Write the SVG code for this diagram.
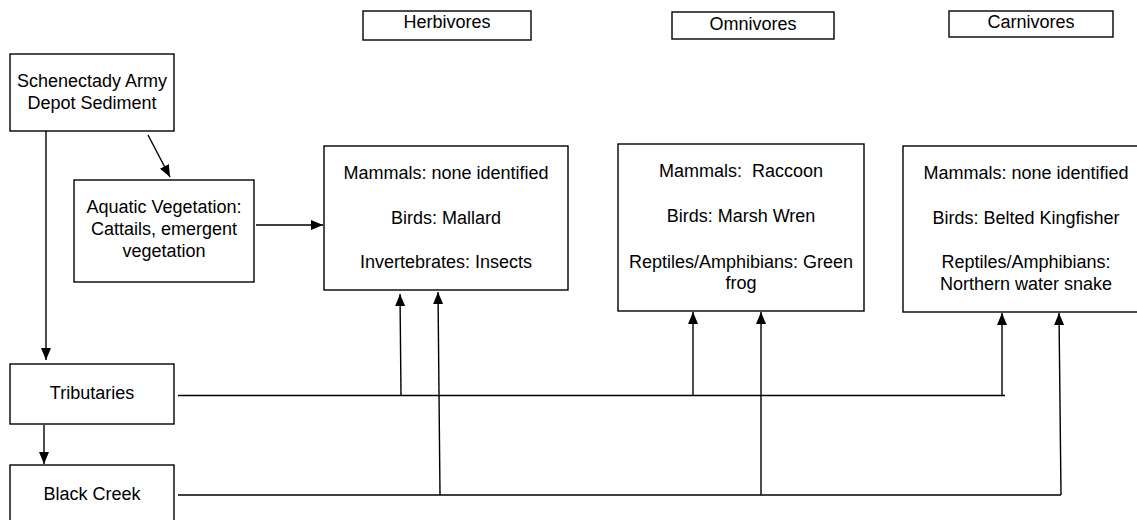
<svg xmlns="http://www.w3.org/2000/svg" width="1137" height="520" viewBox="0 0 1137 520">
<style>
.box{fill:#fff;stroke:#000;stroke-width:1.4}
.t{font-family:"Liberation Sans",Arial,sans-serif;font-size:18px;fill:#000;text-anchor:middle}
.c{fill:none;stroke:#000;stroke-width:1.4}
</style>
<defs>
<marker id="ah" markerUnits="userSpaceOnUse" markerWidth="12" markerHeight="10" refX="12" refY="5" orient="auto">
<path d="M0,0 L12,5 L0,10 z" fill="#000"/>
</marker>
</defs>
<rect width="1137" height="520" fill="#fff"/>
<g id="connectors">
<line class="c" x1="148" y1="135" x2="170" y2="177" marker-end="url(#ah)"/>
<line class="c" x1="256" y1="225" x2="323" y2="225" marker-end="url(#ah)"/>
<line class="c" x1="46" y1="131" x2="46" y2="360" marker-end="url(#ah)"/>
<line class="c" x1="44" y1="425" x2="44" y2="464" marker-end="url(#ah)"/>
<polyline class="c" points="178,395.5 1005,395.5"/>
<polyline class="c" points="178,495 1061,495"/>
<line class="c" x1="401" y1="395.5" x2="400" y2="294" marker-end="url(#ah)"/>
<line class="c" x1="440" y1="495" x2="438" y2="292" marker-end="url(#ah)"/>
<line class="c" x1="693" y1="395.5" x2="693" y2="312" marker-end="url(#ah)"/>
<line class="c" x1="761" y1="495" x2="761" y2="312" marker-end="url(#ah)"/>
<line class="c" x1="1002" y1="395.5" x2="1002" y2="313" marker-end="url(#ah)"/>
<line class="c" x1="1061" y1="495" x2="1059" y2="313" marker-end="url(#ah)"/>
</g>
<g id="label-herbivores">
<rect class="box" x="363" y="11" width="168" height="29"/>
<text class="t" x="447" y="28">Herbivores</text>
</g>
<g id="label-omnivores">
<rect class="box" x="672" y="12" width="162" height="27"/>
<text class="t" x="753" y="30">Omnivores</text>
</g>
<g id="label-carnivores">
<rect class="box" x="949" y="11" width="164" height="26"/>
<text class="t" x="1031" y="28">Carnivores</text>
</g>
<g id="sediment">
<rect class="box" x="10" y="54" width="164" height="77"/>
<text class="t" x="92" y="87">Schenectady Army</text>
<text class="t" x="92" y="109">Depot Sediment</text>
</g>
<g id="aquatic">
<rect class="box" x="74" y="180" width="180" height="102"/>
<text class="t" x="164" y="213">Aquatic Vegetation:</text>
<text class="t" x="164" y="235">Cattails, emergent</text>
<text class="t" x="164" y="257">vegetation</text>
</g>
<g id="herbivores">
<rect class="box" x="324" y="146" width="244" height="144"/>
<text class="t" x="446" y="179">Mammals: none identified</text>
<text class="t" x="446" y="224">Birds: Mallard</text>
<text class="t" x="446" y="268">Invertebrates: Insects</text>
</g>
<g id="omnivores">
<rect class="box" x="618" y="144" width="246" height="167"/>
<text class="t" x="741" y="177" xml:space="preserve">Mammals:  Raccoon</text>
<text class="t" x="741" y="222">Birds: Marsh Wren</text>
<text class="t" x="741" y="268">Reptiles/Amphibians: Green</text>
<text class="t" x="741" y="289">frog</text>
</g>
<g id="carnivores">
<rect class="box" x="903" y="146" width="246" height="166"/>
<text class="t" x="1026" y="179">Mammals: none identified</text>
<text class="t" x="1026" y="224">Birds: Belted Kingfisher</text>
<text class="t" x="1026" y="268">Reptiles/Amphibians:</text>
<text class="t" x="1026" y="290">Northern water snake</text>
</g>
<g id="tributaries">
<rect class="box" x="10" y="364" width="164" height="60"/>
<text class="t" x="92" y="399">Tributaries</text>
</g>
<g id="black-creek">
<rect class="box" x="10" y="465" width="164" height="70"/>
<text class="t" x="92" y="500">Black Creek</text>
</g>
</svg>
